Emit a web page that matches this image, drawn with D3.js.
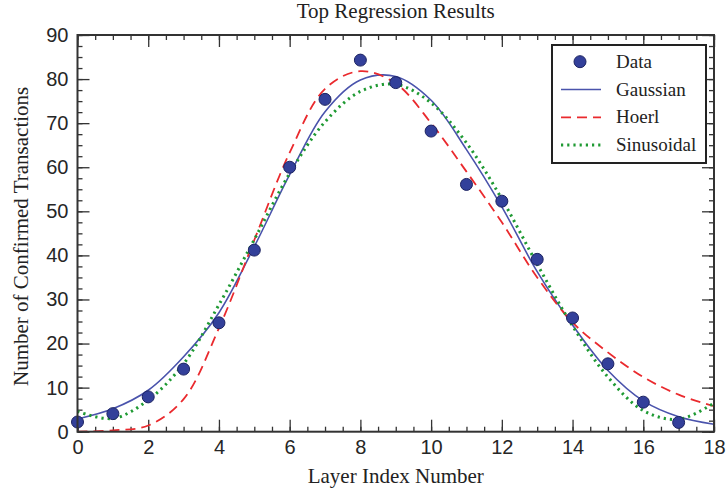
<!DOCTYPE html>
<html>
<head>
<meta charset="utf-8">
<script src="https://cdn.jsdelivr.net/npm/d3@7"></script>
<style>
  body { margin: 0; background: #fff; }
  svg { display: block; }
  .tick text { font-family: "Liberation Sans", Arial, sans-serif; font-size: 20px; fill: #262626; }
  .serif { font-family: "Liberation Serif", "Times New Roman", serif; fill: #222; }
</style>
</head>
<body>
<div id="chart"></div>
<script>
// layer index of each observation and the confirmed-transaction counts
const layerIdx = d3.range(0, 18);
const observed = [2.2, 4.1, 7.9, 14.2, 24.7, 41.2, 60.0, 75.4, 84.3, 79.2, 68.2, 56.1, 52.3, 39.1, 25.8, 15.4, 6.7, 2.1];

// fitted curves at each whole layer index 0..18
const fitX = d3.range(0, 19);
const gaussianFit = [2.9, 5.2, 9.4, 17.0, 27.0, 42.0, 58.3, 72.6, 79.8, 80.6, 75.2, 64.0, 51.0, 36.3, 24.2, 13.9, 7.0, 3.4, 1.7];
const hoerlFit = [0.0, 0.3, 1.4, 7.4, 23.5, 43.5, 63.3, 77.8, 81.8, 79.0, 70.0, 59.0, 47.5, 35.0, 24.8, 18.0, 12.4, 8.4, 5.8];
const sinusoidalFit = [4.6, 3.0, 7.2, 15.4, 28.8, 43.6, 58.6, 70.3, 77.2, 78.8, 74.6, 65.5, 52.8, 38.0, 24.0, 12.4, 4.8, 2.8, 6.5];

const xTicks = d3.range(0, 19, 2);
const yTicks = d3.range(0, 91, 10);

const width = 727, height = 493;
const margin = { top: 35, right: 13, bottom: 61.3, left: 77.5 };
const plotW = width - margin.left - margin.right;
const plotH = height - margin.top - margin.bottom;

const x = d3.scaleLinear().domain([0, 18]).range([0, plotW]);
const y = d3.scaleLinear().domain([0, 90]).range([plotH, 0]);

const svg = d3.select('#chart').append('svg')
  .attr('width', width)
  .attr('height', height);

const g = svg.append('g').attr('transform', `translate(${margin.left},${margin.top})`);

g.append('clipPath').attr('id', 'plot-clip')
  .append('rect').attr('width', plotW).attr('height', plotH);

// ticks: minor first, then major with labels
function styleAxis(sel) {
  sel.select('.domain').remove();
  sel.selectAll('.tick line').attr('stroke', '#333').attr('stroke-width', 1.3);
}

const minorX = d3.range(0, 18.01, 0.5);
const minorY = d3.range(0, 90.01, 2.5);

g.append('g').attr('transform', `translate(0,${plotH})`)
  .call(d3.axisBottom(x).tickValues(minorX).tickSize(-5).tickFormat(''))
  .call(styleAxis);
g.append('g')
  .call(d3.axisTop(x).tickValues(minorX).tickSize(-5).tickFormat(''))
  .call(styleAxis);
g.append('g')
  .call(d3.axisLeft(y).tickValues(minorY).tickSize(-5).tickFormat(''))
  .call(styleAxis);
g.append('g').attr('transform', `translate(${plotW},0)`)
  .call(d3.axisRight(y).tickValues(minorY).tickSize(-5).tickFormat(''))
  .call(styleAxis);

g.append('g').attr('transform', `translate(0,${plotH})`)
  .call(d3.axisBottom(x).tickValues(xTicks).tickSize(-12).tickPadding(8).tickFormat(d3.format('d')))
  .call(styleAxis);
g.append('g')
  .call(d3.axisTop(x).tickValues(xTicks).tickSize(-12).tickFormat(''))
  .call(styleAxis);
g.append('g')
  .call(d3.axisLeft(y).tickValues(yTicks).tickSize(-12).tickPadding(9).tickFormat(d3.format('d')))
  .call(styleAxis);
g.append('g').attr('transform', `translate(${plotW},0)`)
  .call(d3.axisRight(y).tickValues(yTicks).tickSize(-12).tickFormat(''))
  .call(styleAxis);

// fitted curves
const series = [
  { name: 'Gaussian', values: gaussianFit, color: '#4a53ac', dash: null, width: 1.6 },
  { name: 'Hoerl', values: hoerlFit, color: '#ea2a2e', dash: '10,6', width: 1.8 },
  { name: 'Sinusoidal', values: sinusoidalFit, color: '#1f9a33', dash: '2.2,4', width: 3 }
];

const line = d3.line()
  .x(d => x(d[0]))
  .y(d => y(d[1]))
  .curve(d3.curveCatmullRom.alpha(0.5));

g.append('g').attr('clip-path', 'url(#plot-clip)')
  .selectAll('path')
  .data(series)
  .join('path')
  .attr('d', s => line(fitX.map((v, i) => [v, s.values[i]])))
  .attr('fill', 'none')
  .attr('stroke', s => s.color)
  .attr('stroke-width', s => s.width)
  .attr('stroke-dasharray', s => s.dash);

// observed points
g.append('g')
  .selectAll('circle')
  .data(layerIdx.map((v, i) => [v, observed[i]]))
  .join('circle')
  .attr('cx', d => x(d[0]))
  .attr('cy', d => y(d[1]))
  .attr('r', 6)
  .attr('fill', '#33409a')
  .attr('stroke', '#1c2362')
  .attr('stroke-width', 1);

// frame
g.append('rect')
  .attr('width', plotW)
  .attr('height', plotH)
  .attr('fill', 'none')
  .attr('stroke', '#333')
  .attr('stroke-width', 2);

// legend
const legend = svg.append('g').attr('transform', 'translate(552,45)');
legend.append('rect')
  .attr('width', 154).attr('height', 118)
  .attr('fill', '#fff').attr('stroke', '#222').attr('stroke-width', 2);

const legendRows = [{ name: 'Data' }].concat(series);
legendRows.forEach((s, i) => {
  const cy = 16.7 + i * 27.8;
  if (s.values) {
    legend.append('line')
      .attr('x1', 9).attr('x2', 49).attr('y1', cy).attr('y2', cy)
      .attr('stroke', s.color).attr('stroke-width', s.width)
      .attr('stroke-dasharray', s.dash);
  } else {
    legend.append('circle').attr('cx', 28).attr('cy', cy).attr('r', 6)
      .attr('fill', '#33409a').attr('stroke', '#1c2362');
  }
  legend.append('text').attr('class', 'serif')
    .attr('x', 64).attr('y', cy + 6)
    .attr('font-size', 19)
    .text(s.name);
});

// title and axis labels
svg.append('text').attr('class', 'serif')
  .attr('x', margin.left + plotW / 2).attr('y', 18)
  .attr('text-anchor', 'middle').attr('font-size', 21)
  .text('Top Regression Results');

svg.append('text').attr('class', 'serif')
  .attr('x', margin.left + plotW / 2).attr('y', 483)
  .attr('text-anchor', 'middle').attr('font-size', 21)
  .text('Layer Index Number');

svg.append('text').attr('class', 'serif')
  .attr('transform', `translate(28,${margin.top + plotH / 2 + 3}) rotate(-90)`)
  .attr('text-anchor', 'middle').attr('font-size', 21)
  .text('Number of Confirmed Transactions');
</script>
</body>
</html>
